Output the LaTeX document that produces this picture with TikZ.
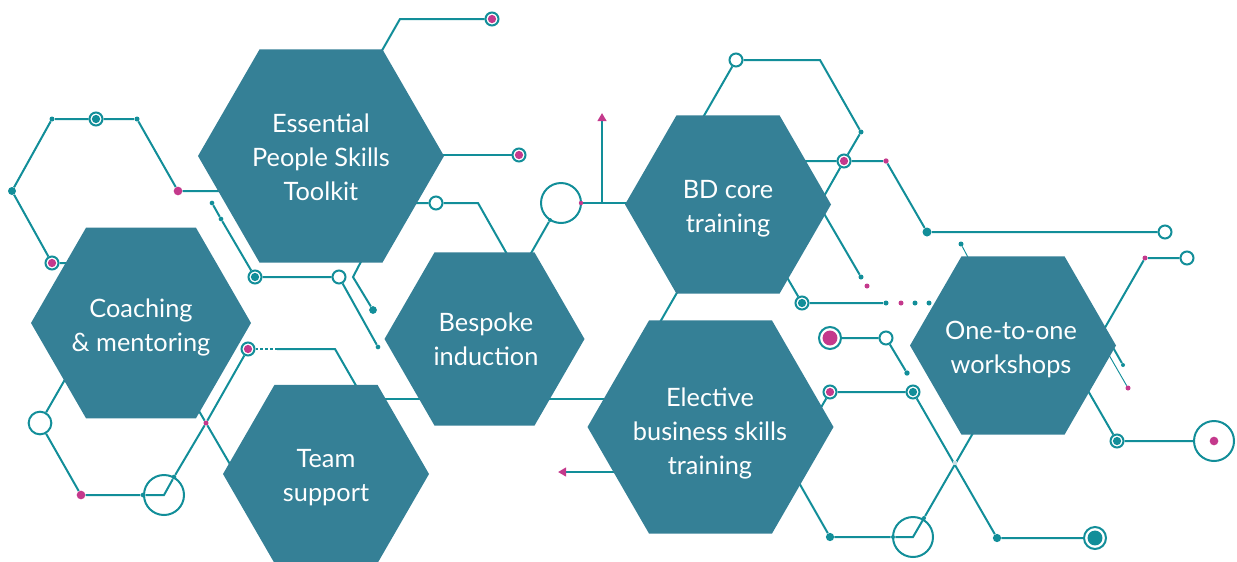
\documentclass[tikz,border=0pt]{standalone}
\usepackage{fontspec}
\setmainfont{Lato}
\usetikzlibrary{arrows.meta,calc}
\definecolor{hexc}{RGB}{53,128,150}
\definecolor{tl}{RGB}{18,142,153}
\definecolor{mg}{RGB}{196,57,140}
\definecolor{xing}{RGB}{200,222,228}
\pgfdeclarelayer{lines}
\pgfdeclarelayer{hexes}
\pgfsetlayers{lines,hexes,main}
\newcommand\hexpoly[3]{\fill[hexc] ({#1+#3},#2) -- ({#1+0.5*#3},{#2-0.866*#3}) -- ({#1-0.5*#3},{#2-0.866*#3}) -- ({#1-#3},#2) -- ({#1-0.5*#3},{#2+0.866*#3}) -- ({#1+0.5*#3},{#2+0.866*#3}) -- cycle;}
\begin{document}
\begin{tikzpicture}[x=0.75pt,y=-0.75pt,
 ln/.style={draw=tl, line width=1.5pt},
 lnthin/.style={draw=tl, line width=0.7pt},
 tdot/.style={circle, fill=tl, inner sep=0pt, minimum size=#1},
 tdot/.default=3.75pt,
 mdot/.style={circle, fill=mg, inner sep=0pt, minimum size=#1},
 mdot/.default=3.75pt,
 ocirc/.style={circle, draw=tl, line width=1.5pt, fill=white, inner sep=0pt, minimum size=#1},
 ocirc/.default=9.75pt,
 ringt/.style={ocirc, path picture={\fill[tl] (path picture bounding box.center) circle (3.1pt);}},
 ringm/.style={ocirc, path picture={\fill[mg] (path picture bounding box.center) circle (3.1pt);}},
 bigringt/.style={ocirc=16.5pt, path picture={\fill[tl] (path picture bounding box.center) circle (5.6pt);}},
 bigringm/.style={ocirc=16.5pt, path picture={\fill[mg] (path picture bounding box.center) circle (5.6pt);}},
 lbl/.style={text=white, align=center, font=\fontsize{19}{25.5}\selectfont, inner sep=0pt},
 magtip/.style={-{Triangle[length=6pt,width=6.5pt,color=mg]}}
]
\useasboundingbox (0,0) rectangle (1237,561);

% ---------- hexagons ----------
\begin{pgfonlayer}{hexes}
\hexpoly{321}{156}{123}
\hexpoly{141}{323}{110}
\hexpoly{326}{474}{103}
\hexpoly{484.5}{339}{100}
\hexpoly{728}{204.5}{103}
\hexpoly{710.5}{427}{123}
\hexpoly{1013}{345.5}{103}
\end{pgfonlayer}

% ---------- labels ----------
\node[lbl] (tEss) at (321,157) {Essential\\People Skills\\Toolkit};
\node[lbl] (tCoa) at (141,327) {Coaching\\\& mentoring};
\node[lbl] (tTeam) at (326,478) {Team\\support};
\node[lbl] (tBes) at (486,339.5) {Bespoke\\induction};
\node[lbl] (tBD) at (728,209) {BD core\\training};
\node[lbl] (tEle) at (710,433) {Elective\\business skills\\training};
\node[lbl] (tOne) at (1011,349.5) {One-to-one\\workshops};

% ---------- markers ----------
\node[tdot] (a1) at (52,119) {};
\node[ringt] (a2) at (96,119) {};
\node[tdot] (a3) at (137,119) {};
\node[mdot=6.5pt] (a4) at (178,191) {};
\node[tdot=6pt] (a5) at (12,191) {};
\node[ringm] (a6) at (52,263) {};
\coordinate (a7) at (240,191);
\coordinate (a8) at (90,263);

\coordinate (b0) at (75,362);
\node[ocirc=17pt] (b1) at (40,423) {};
\node[mdot=6.5pt] (b2) at (81,495) {};
\node[tdot=3.5pt] (b3) at (143,495) {};
\coordinate (bc) at (164,495);
\node[tdot=3.5pt] (b4) at (174,477) {};
\node[mdot] (b5) at (206,423) {};
\node[ringm] (b6) at (248,349) {};
\coordinate (b7) at (277,349);
\coordinate (b8) at (335,349);
\coordinate (b9) at (385,436);
\coordinate (b10) at (185,387);
\coordinate (b11) at (245,490);

\node[tdot=3.5pt] (d1) at (212,203) {};
\node[tdot=3.5pt] (d2) at (221,219) {};
\node[ringt] (d3) at (255,277) {};
\node[ocirc] (d4) at (339,277) {};
\node[tdot=3.5pt] (d5) at (378,347) {};
\coordinate (d7) at (366,252);
\coordinate (d8) at (353,277);
\node[tdot=5.8pt] (d6) at (373,310) {};

\coordinate (e0) at (405,203);
\node[ocirc] (e1) at (436,203) {};
\coordinate (e2) at (478,203);
\coordinate (e3) at (516,270);
\coordinate (e4) at (425,155);
\node[ringm] (e5) at (519,155) {};
\coordinate (e6) at (372,68);
\coordinate (e7) at (400,19);
\node[ringm] (e8) at (492,19) {};

\coordinate (f0) at (522,269);
\node[tdot=3pt] (f1) at (550,220) {};
\coordinate (fc) at (561,203);
\node[mdot=3.3pt] (f2) at (581,203) {};
\coordinate (f3) at (602,203);
\coordinate (f4) at (602,113);
\coordinate (f5) at (645,203);

\coordinate (g0) at (690,140);
\node[ocirc] (g1) at (736,60) {};
\coordinate (g1b) at (820,60);
\node[tdot] (g2) at (861,132) {};
\node[ringm] (g3) at (844,161) {};
\coordinate (g3b) at (819,205);
\node[tdot] (g4) at (861,277) {};
\node[mdot] (g5) at (867,286) {};
\coordinate (g6a) at (795,161);
\node[mdot=4pt] (g6) at (886,161) {};
\node[tdot=6.75pt] (g7) at (927,232) {};
\node[ocirc] (g8) at (1165,232) {};
\node[tdot] (g9) at (961,244) {};
\coordinate (g10) at (972,265);

\coordinate (h0) at (778,262);
\node[ringt] (h1) at (802,303) {};
\node[tdot] (h2) at (886,303) {};
\node[mdot] (h3) at (901,303) {};
\node[tdot] (h4) at (915,303) {};
\node[tdot] (h5) at (929,303) {};
\coordinate (hb1) at (686,277);
\coordinate (hb2) at (648,343);

\node[bigringm] (i1) at (830,338) {};
\node[ocirc] (i2) at (886,338) {};
\node[tdot=4pt] (i3) at (907,373) {};
\coordinate (j0) at (812,423);
\node[ringm] (j1) at (830,392) {};
\node[ringt] (j2) at (913,392) {};
\node[tdot=6.2pt] (j3) at (997,538) {};
\node[bigringt] (j4) at (1095,538) {};

\coordinate (k0) at (790,467);
\node[tdot=6.2pt] (k1) at (830,537) {};
\node[tdot=3pt] (k2) at (893,537) {};
\coordinate (kc) at (913,537);
\node[tdot=3pt] (k3) at (924,518) {};
\coordinate (k4) at (988,407);
\node[fill=xing, inner sep=0pt, minimum size=3.5pt] (kx) at (955,463) {};

\coordinate (l0) at (1095,345);
\node[mdot] (l1) at (1145,258) {};
\node[ocirc] (l2) at (1187,258) {};
\coordinate (l3) at (1103,330);
\node[tdot=3pt] (l4) at (1123,365) {};
\coordinate (l5) at (1098,336);
\node[mdot] (l6) at (1128,388) {};
\coordinate (m0) at (1072,363);
\node[ringt] (m1) at (1117,441) {};
\node[ocirc=30pt] (m2) at (1214,441) {};
\node[mdot=6.5pt] (m3) at (1214,441) {};

\coordinate (n0) at (630,472);
\coordinate (n1) at (558,472);
\coordinate (o0) at (360,399);
\coordinate (o1) at (625,399);

% ---------- connectors ----------
\begin{pgfonlayer}{lines}
\draw[ln] (a7) -- (a4) -- (a3) -- (a2) -- (a1) -- (a5) -- (a6) -- (a8);
\draw[ln] (b0) -- (b1) -- (b2) -- (b3) -- (bc) -- (b4) -- (b5) -- (b6);
\draw[ln] (bc) circle (15pt);
\draw[ln] (b10) -- (b5) -- (b11);
\draw[ln, dash pattern=on 2.2pt off 1.5pt] (b6) -- (b7);
\draw[ln] (b7) -- (b8) -- (b9);
\draw[ln] (d1) -- (d2) -- (d3) -- (d4) -- (d5);
\draw[ln] (d7) -- (d8) -- (d6);
\draw[ln] (e0) -- (e1) -- (e2) -- (e3);
\draw[ln] (e4) -- (e5);
\draw[ln] (e6) -- (e7) -- (e8);
\draw[ln] (f0) -- (f1);
\draw[ln] (fc) circle (15pt);
\draw[ln] (f2) -- (f5);
\draw[ln, magtip] (f3) -- (f4);
\draw[ln] (g0) -- (g1) -- (g1b) -- (g2) -- (g3) -- (g3b) -- (g4);
\draw[ln] (g6a) -- (g3) -- (g6) -- (g7) -- (g8);
\draw[lnthin] (g9) -- (g10);
\draw[ln] (h0) -- (h1) -- (h2);
\draw[ln] (hb1) -- (hb2);
\draw[ln] (i1) -- (i2) -- (i3);
\draw[ln] (j0) -- (j1) -- (j2) -- (j3) -- (j4);
\draw[ln] (k0) -- (k1) -- (k2) -- (kc) -- (k3) -- (k4);
\draw[ln] (kc) circle (15pt);
\draw[ln] (l0) -- (l1) -- (l2);
\draw[ln] (l3) -- (l4);
\draw[lnthin] (l5) -- (l6);
\draw[ln] (m0) -- (m1) -- (m2);
\draw[ln, magtip] (n0) -- (n1);
\draw[ln] (o0) -- (o1);
\end{pgfonlayer}
\end{tikzpicture}
\end{document}
